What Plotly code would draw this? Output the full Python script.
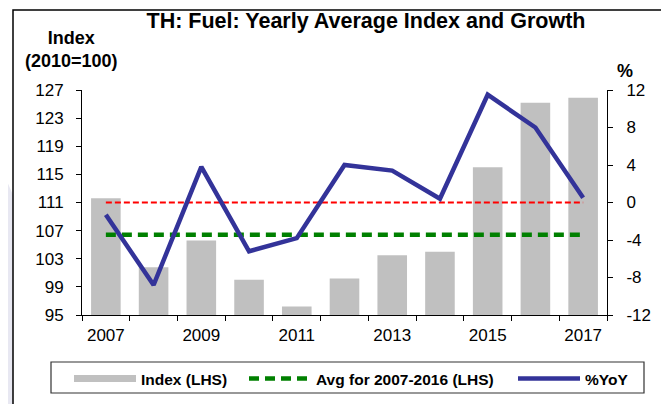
import numpy as np
import plotly.graph_objects as go

years = [str(y) for y in range(2007, 2018)]
index_vals = [111.6, 101.8, 105.6, 100.0, 96.2, 100.2, 103.5, 104.0, 116.0, 125.2, 125.9]
yoy_vals = [-1.3, -8.8, 3.8, -5.2, -3.8, 4.0, 3.4, 0.4, 11.5, 8.0, 0.5]
avg_2007_2016 = float(np.mean(index_vals[:10]))
avg_vals = [avg_2007_2016] * len(years)
zero_vals = [0] * len(years)
tick_text = [y if i % 2 == 0 else "" for i, y in enumerate(years)]
left_ticks = list(range(95, 128, 4))
right_ticks = list(range(-12, 13, 4))
right_text = [str(v) for v in right_ticks]

# page geometry (pixels); the page body has an 8px margin
OFF = 8
W, H = 669 - OFF, 404 - OFF
L, R, T, B = 82, 607, 90, 315   # plot area in page pixels
pw, ph = R - L, B - T


def px(x):
    return (x - L) / pw


def py(y):
    return (B - y) / ph


fig = go.Figure()
fig.add_trace(go.Bar(x=years, y=index_vals, marker_color="#c0c0c0", marker_line_width=0,
                     showlegend=False, name="Index (LHS)", yaxis="y"))
fig.add_trace(go.Scatter(x=years, y=[None] * len(years), mode="lines",
                         name="<b>Index (LHS)</b>", legend="legend",
                         line=dict(color="#c0c0c0", width=7), yaxis="y"))
fig.add_trace(go.Scatter(x=years, y=avg_vals, mode="lines",
                         name="<b>Avg for 2007-2016 (LHS)</b>", legend="legend2",
                         line=dict(color="#008000", width=4.5, dash="10px,6px"), yaxis="y"))
fig.add_trace(go.Scatter(x=years, y=zero_vals, mode="lines", showlegend=False,
                         line=dict(color="#ff0000", width=2, dash="6px,3px"), yaxis="y2"))
fig.add_trace(go.Scatter(x=years, y=yoy_vals, mode="lines", name="<b>%YoY</b>",
                         legend="legend3",
                         line=dict(color="#333399", width=4.5), yaxis="y2"))

FONT = "Liberation Sans, Arial, sans-serif"
axis_font = dict(family=FONT, size=17, color="black")


def leg(xpage):
    return dict(orientation="h", x=px(xpage), y=py(362), xanchor="left", yanchor="top",
                borderwidth=0, bgcolor="rgba(0,0,0,0)",
                font=dict(size=15.5, color="black", family=FONT),
                itemwidth=62)


fig.update_layout(
    width=W, height=H,
    margin=dict(l=L - OFF, r=W - (R - OFF), t=T - OFF, b=H - (B - OFF), autoexpand=False),
    paper_bgcolor="white", plot_bgcolor="white",
    bargap=0.38,
    font=dict(family=FONT, color="black"),
    title=dict(text="<b>TH: Fuel: Yearly Average Index and Growth</b>",
               x=px(366), xref="paper", xanchor="center",
               y=1 - (20 - OFF) / H, yref="container", yanchor="middle",
               font=dict(size=21.5, color="black")),
    xaxis=dict(type="category", tickvals=years, ticktext=tick_text, tickson="boundaries",
               ticks="outside", ticklen=5, tickcolor="black", showline=True, linecolor="black",
               linewidth=1, showgrid=False, tickfont=axis_font, range=[-0.5, 10.5],
               ticklabelstandoff=5),
    yaxis=dict(range=[95, 127], tickvals=left_ticks, ticks="outside", ticklen=5, tickcolor="black",
               showline=True, linecolor="black", linewidth=1, showgrid=False, zeroline=False,
               tickfont=axis_font, ticklabelstandoff=9),
    yaxis2=dict(range=[-12, 12], tickvals=right_ticks, ticktext=right_text, overlaying="y",
                side="right", ticks="outside", ticklen=5, tickcolor="black", showline=True,
                linecolor="black", linewidth=1, showgrid=False, zeroline=False,
                tickfont=axis_font, ticklabelstandoff=10),
    legend=leg(69),
    legend2=leg(244),
    legend3=leg(513),
    annotations=[
        dict(text="<b>Index</b><br><b>(2010=100)</b>", x=px(71), y=py(50), xref="paper",
             yref="paper", showarrow=False, xanchor="center", yanchor="middle",
             font=dict(size=18)),
        dict(text="<b>%</b>", x=px(625), y=py(71), xref="paper", yref="paper",
             showarrow=False, xanchor="center", yanchor="middle", font=dict(size=18)),
    ],
    shapes=[
        dict(type="path", xref="paper", yref="paper", layer="below",
             path=f"M {px(0)},{py(165)} L {px(13)},{py(195)} L {px(13)},{py(420)} L {px(0)},{py(420)} Z",
             fillcolor="#e8e8f2", line=dict(width=0)),
        dict(type="rect", xref="paper", yref="paper", layer="below",
             x0=px(13), x1=px(662), y0=py(420), y1=py(10),
             line=dict(color="black", width=1.5), fillcolor="rgba(0,0,0,0)"),
        dict(type="rect", xref="paper", yref="paper", layer="below",
             x0=px(51), x1=px(644), y0=py(393), y1=py(362),
             line=dict(color="#333333", width=1.2), fillcolor="rgba(0,0,0,0)"),
    ],
)

fig.write_html("out.html")
